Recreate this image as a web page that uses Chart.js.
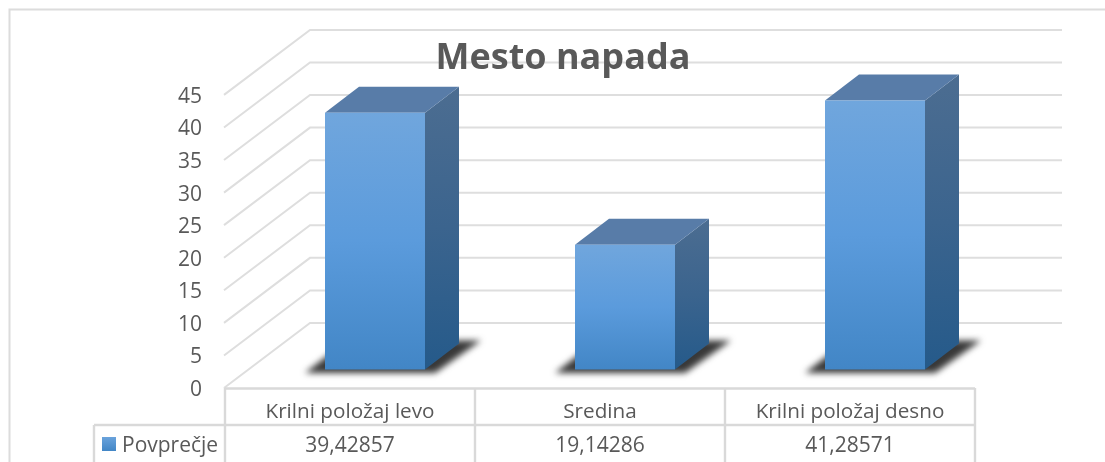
<!DOCTYPE html>
<html>
<head>
<meta charset="utf-8">
<style>html,body{margin:0;padding:0;background:#fff;overflow:hidden}canvas{display:block}</style>
<script src="https://cdn.jsdelivr.net/npm/chart.js@4"></script>
</head>
<body>
<canvas id="c" width="1105" height="462"></canvas>
<script>
const categories = ['Krilni položaj levo', 'Sredina', 'Krilni položaj desno'];
const seriesName = 'Povprečje';
const seriesValues = [39.42857, 19.14286, 41.28571];
const chartTitle = 'Mesto napada';
const yMin = 0, yMax = 45, yStep = 5;

const FONT = '"Open Sans", sans-serif';
const INK = '#595959', LINE = '#dedede';
const WALL = {dx: 86, dy: 65, right: 1062};
const BAR_SHIFT = {dx: 25, dy: -18.5};
const BAR_DEPTH = {dx: 34, dy: 26};
const TABLE = {labelX: 94, rowY: 425, bottom: 470};

function poly(ctx, pts) {
  ctx.beginPath();
  pts.forEach((p, i) => i ? ctx.lineTo(p[0], p[1]) : ctx.moveTo(p[0], p[1]));
  ctx.closePath();
}
function vGrad(ctx, y0, y1, stops) {
  const g = ctx.createLinearGradient(0, y0, 0, y1);
  stops.forEach((c, i) => g.addColorStop(i / (stops.length - 1), c));
  return g;
}

const scene = {
  id: 'scene',
  beforeDraw(chart) {
    const ctx = chart.ctx, y = chart.scales.y, x = chart.scales.x;
    const a = chart.chartArea;
    ctx.save();
    // outer frame, cut by the picture edge
    ctx.strokeStyle = '#dcdcdc'; ctx.lineWidth = 2;
    ctx.beginPath();
    ctx.moveTo(9.5, 470); ctx.lineTo(9.5, 9.5); ctx.lineTo(1110, 9.5);
    ctx.stroke();
    // side wall and back wall grid lines
    ctx.strokeStyle = LINE; ctx.lineWidth = 2;
    y.ticks.forEach(t => {
      const py = y.getPixelForValue(t.value);
      ctx.beginPath();
      ctx.moveTo(a.left - 1, py);
      ctx.lineTo(a.left - 1 + WALL.dx, py - WALL.dy);
      ctx.lineTo(WALL.right, py - WALL.dy);
      ctx.stroke();
    });
    // data table
    ctx.lineWidth = 2.4; ctx.strokeStyle = '#d9d9d9';
    ctx.beginPath();
    ctx.moveTo(a.left, a.bottom + 0.5); ctx.lineTo(a.right, a.bottom + 0.5);
    ctx.moveTo(TABLE.labelX, TABLE.rowY); ctx.lineTo(a.right, TABLE.rowY);
    ctx.moveTo(TABLE.labelX, TABLE.rowY); ctx.lineTo(TABLE.labelX, TABLE.bottom);
    const w = (a.right - a.left) / categories.length;
    categories.forEach((c, i) => {
      const cx = x.getPixelForValue(i) - w / 2;
      ctx.moveTo(cx, a.bottom); ctx.lineTo(cx, TABLE.bottom);
    });
    ctx.moveTo(a.right, a.bottom); ctx.lineTo(a.right, TABLE.bottom);
    ctx.stroke();
    // value row
    ctx.fillStyle = INK; ctx.textBaseline = 'middle';
    ctx.font = '21px ' + FONT; ctx.textAlign = 'center';
    seriesValues.forEach((v, i) => {
      ctx.fillText(v.toFixed(5).replace('.', ','), x.getPixelForValue(i), 446);
    });
    ctx.textAlign = 'left';
    ctx.fillText(chart.data.datasets[0].label, 122, 446);
    ctx.fillStyle = vGrad(ctx, 437, 451, ['#6aa3dc', '#4286c6']);
    ctx.fillRect(102, 437, 14, 14);
    ctx.restore();
  },
  beforeDatasetsDraw(chart) {
    const ctx = chart.ctx;
    ctx.save();
    // 3D faces of the bars
    const meta = chart.getDatasetMeta(0);
    const D = BAR_DEPTH;
    meta.data.forEach(b => {
      const l = b.x - b.width / 2 + BAR_SHIFT.dx, r = l + b.width;
      const top = b.y + BAR_SHIFT.dy, base = b.base + BAR_SHIFT.dy;
      // floor shadow
      ctx.save();
      ctx.filter = 'blur(3px)';
      ctx.fillStyle = '#383838';
      poly(ctx, [[l - 20, base + 3.5], [l + 110, base + 3.5], [l + 156, base - 29], [l + 22, base - 29]]);
      ctx.fill();
      ctx.restore();
      // right face
      ctx.fillStyle = vGrad(ctx, top - D.dy, base, ['#4c6d91', '#3b648e', '#255a8a']);
      poly(ctx, [[r, top], [r + D.dx, top - D.dy], [r + D.dx, base - D.dy], [r, base]]);
      ctx.fill();
      // top face
      ctx.fillStyle = '#587ca8';
      poly(ctx, [[l, top], [l + D.dx, top - D.dy], [r + D.dx, top - D.dy], [r, top]]);
      ctx.fill();
    });
    ctx.restore();
    ctx.save();
    ctx.translate(BAR_SHIFT.dx, BAR_SHIFT.dy);
  },
  afterDatasetsDraw(chart) {
    chart.ctx.restore();
  }
};

new Chart(document.getElementById('c'), {
  type: 'bar',
  data: {
    labels: categories,
    datasets: [{
      label: seriesName,
      data: seriesValues,
      clip: false,
      borderWidth: 0,
      categoryPercentage: 0.4,
      barPercentage: 1,
      backgroundColor(ctx) {
        const s = ctx.chart.scales.y;
        const v = seriesValues[ctx.dataIndex];
        const y0 = s ? s.getPixelForValue(v) : NaN, y1 = s ? s.getPixelForValue(0) : NaN;
        if (!Number.isFinite(y0) || !Number.isFinite(y1)) return '#5b9bdc';
        return vGrad(ctx.chart.ctx, y0, y1, ['#70a6dd', '#5b9bdc', '#4286c6']);
      }
    }]
  },
  options: {
    responsive: false,
    animation: false,
    layout: {padding: {left: 151, right: 130, top: 0, bottom: 0}},
    plugins: {
      legend: {display: false},
      tooltip: {enabled: false},
      title: {
        display: true, text: chartTitle, color: INK,
        font: {family: FONT, size: 36, weight: 'bold', lineHeight: 1.2},
        padding: {top: 37, bottom: 14.7}
      }
    },
    scales: {
      x: {
        grid: {display: false, drawTicks: false},
        border: {display: false},
        afterFit(s) { s.height = 74; },
        ticks: {color: INK, font: {family: FONT, size: 20.7}, padding: 12, maxRotation: 0, autoSkip: false}
      },
      y: {
        min: yMin, max: yMax,
        grid: {display: false, drawTicks: false},
        border: {display: false},
        afterFit(s) { s.width = 74; },
        ticks: {stepSize: yStep, color: INK, font: {family: FONT, size: 21}, padding: 23, labelOffset: 2}
      }
    }
  },
  plugins: [scene]
});
</script>
</body>
</html>
